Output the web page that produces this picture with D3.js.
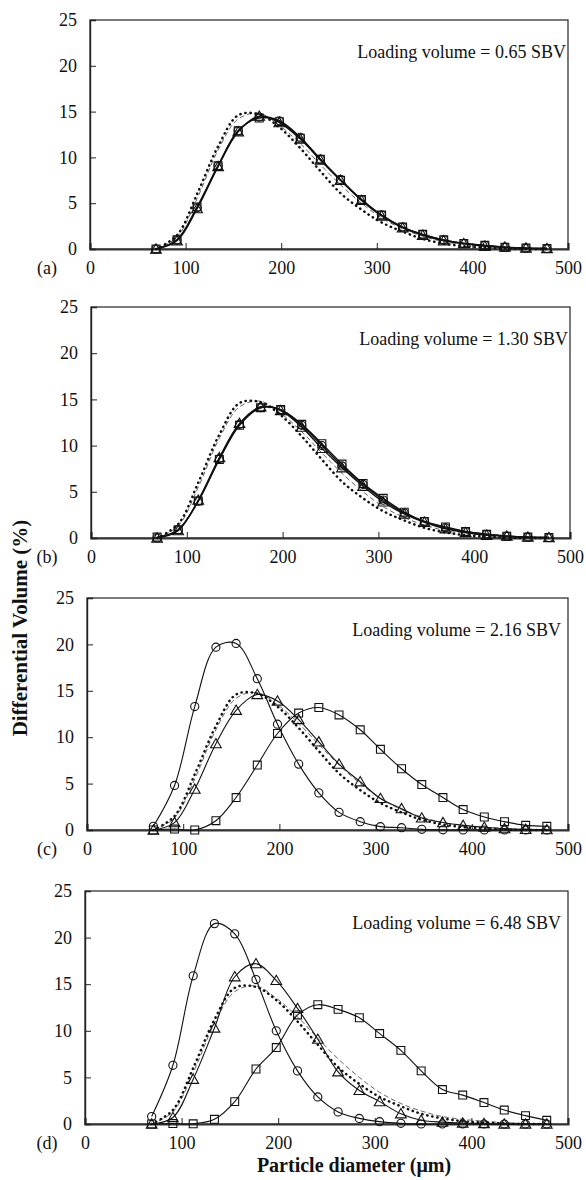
<!DOCTYPE html>
<html>
<head>
<meta charset="utf-8">
<script src="https://cdn.jsdelivr.net/npm/d3@7"></script>
<style>
  body { margin: 0; background: #fff; }
  svg { display: block; }
  text { font-family: "Liberation Serif", "Times New Roman", "DejaVu Serif", serif; fill: #111; }
</style>
</head>
<body>
<div id="chart"></div>
<script>
// particle size classes (um), shared by every panel
const diameters = [69, 91, 112, 134, 155, 177, 198, 220, 241, 262, 284, 305, 327, 348, 370, 391, 413, 434, 456, 478]

// reference curves drawn in every panel
const dottedRef = [0, 1.5, 6.0, 11.2, 14.6, 14.7, 13.3, 11.0, 8.5, 6.1, 4.3, 2.9, 1.9, 1.1, 0.6, 0.3, 0.15, 0.05, 0, 0]
const dashedRef = [0, 1.3, 5.5, 10.8, 14.2, 14.8, 13.5, 11.5, 9.2, 7.0, 5.0, 3.4, 2.2, 1.4, 0.8, 0.5, 0.3, 0.15, 0.05, 0]

const panelLabels = ['(a)', '(b)', '(c)', '(d)']
const loadingVolumes = ['0.65', '1.30', '2.16', '6.48']

const circleValues = [
  [0, 1.0, 4.5, 9.1, 12.9, 14.4, 14.0, 12.2, 9.8, 7.6, 5.4, 3.7, 2.4, 1.6, 1.0, 0.6, 0.4, 0.2, 0.1, 0.05],
  [0, 0.9, 4.0, 8.6, 12.3, 14.1, 13.9, 12.2, 10.0, 7.8, 5.8, 4.1, 2.7, 1.8, 1.1, 0.7, 0.4, 0.2, 0.1, 0.05],
  [0.4, 4.8, 13.3, 19.7, 20.1, 16.3, 11.4, 7.1, 4.0, 1.9, 0.9, 0.36, 0.25, 0.07, 0.02, 0, 0, 0, 0, 0],
  [0.8, 6.3, 15.9, 21.5, 20.4, 15.5, 10.0, 5.7, 2.9, 1.3, 0.6, 0.25, 0.07, 0, 0, 0, 0, 0, 0, 0]
]
const triangleValues = [
  [0, 0.9, 4.4, 9.0, 12.8, 14.5, 13.8, 12.0, 9.7, 7.5, 5.3, 3.6, 2.3, 1.5, 0.9, 0.6, 0.3, 0.2, 0.1, 0.05],
  [0, 0.8, 4.1, 8.7, 12.4, 14.2, 13.8, 12.0, 9.7, 7.6, 5.6, 3.9, 2.6, 1.7, 1.0, 0.6, 0.3, 0.2, 0.1, 0.05],
  [0, 0.8, 4.4, 9.3, 12.9, 14.6, 13.9, 11.9, 9.5, 7.1, 5.2, 3.4, 2.3, 1.3, 0.8, 0.5, 0.3, 0.15, 0.07, 0.03],
  [0, 0.7, 4.8, 10.3, 15.8, 17.2, 15.4, 12.4, 9.1, 5.6, 3.6, 2.4, 1.1, 0.4, 0.2, 0.1, 0.05, 0, 0, 0]
]
const squareValues = [
  [0, 1.0, 4.6, 9.1, 12.9, 14.3, 13.9, 12.1, 9.8, 7.5, 5.4, 3.7, 2.4, 1.6, 1.0, 0.6, 0.4, 0.2, 0.1, 0.05],
  [0.1, 0.9, 4.0, 8.5, 12.2, 14.1, 13.9, 12.3, 10.2, 8.0, 5.9, 4.3, 2.8, 1.8, 1.2, 0.7, 0.4, 0.2, 0.1, 0.05],
  [0, 0.1, 0, 1.0, 3.5, 7.0, 10.4, 12.6, 13.2, 12.4, 10.8, 8.7, 6.6, 4.9, 3.5, 2.2, 1.4, 0.9, 0.5, 0.4],
  [0, 0.05, 0.02, 0.5, 2.4, 5.9, 8.2, 11.7, 12.8, 12.3, 11.4, 9.7, 7.9, 5.7, 3.7, 3.1, 2.3, 1.5, 0.9, 0.4]
]

const xTicks = [0, 100, 200, 300, 400, 500]
const yTicks = [0, 5, 10, 15, 20, 25]

const width = 586
const height = 1180

// plot boxes
const boxes = [
  {left: 90, right: 568, top: 20, bottom: 249},
  {left: 91, right: 570, top: 307, bottom: 538},
  {left: 87, right: 568, top: 598, bottom: 830},
  {left: 85, right: 568, top: 891, bottom: 1124}
]

const svg = d3.select('#chart').append('svg')
  .attr('width', width)
  .attr('height', height)

const symbolFor = {
  circle: d3.symbol().type(d3.symbolCircle).size(52),
  triangle: d3.symbol().type(d3.symbolTriangle).size(50),
  square: d3.symbol().type(d3.symbolSquare).size(62)
}

boxes.forEach((b, i) => {
  const x = d3.scaleLinear().domain([0, 500]).range([b.left, b.right])
  const y = d3.scaleLinear().domain([0, 25]).range([b.bottom, b.top])
  const g = svg.append('g').attr('class', 'panel')

  const line = d3.line()
    .x((d, j) => x(diameters[j]))
    .y(d => y(d))
    .curve(d3.curveCatmullRom.alpha(0.5))

  // frame
  g.append('rect')
    .attr('x', b.left).attr('y', b.top)
    .attr('width', b.right - b.left).attr('height', b.bottom - b.top)
    .attr('fill', 'none').attr('stroke', '#222').attr('stroke-width', 1.2)

  // axes with inward ticks
  const xAxis = d3.axisBottom(x).tickValues(xTicks).tickSize(-6).tickPadding(12)
  const gx = g.append('g').attr('transform', `translate(0,${b.bottom})`).call(xAxis)
  gx.select('.domain').attr('stroke', '#333').attr('stroke-width', 2.2)
  gx.selectAll('.tick line').attr('stroke', '#222')
  gx.selectAll('.tick text')
    .style('font-family', '"Liberation Serif", serif')
    .style('font-size', '18px').attr('fill', '#111')

  const yAxis = d3.axisLeft(y).tickValues(yTicks).tickSize(-6).tickPadding(13)
  const gy = g.append('g').attr('transform', `translate(${b.left},0)`).call(yAxis)
  gy.select('.domain').attr('stroke', '#222').attr('stroke-width', 1.4)
  gy.selectAll('.tick line').attr('stroke', '#222')
  gy.selectAll('.tick text')
    .style('font-family', '"Liberation Serif", serif')
    .style('font-size', '18px').attr('fill', '#111')

  g.append('text')
    .attr('x', 47).attr('y', b.bottom + 25)
    .attr('text-anchor', 'middle')
    .style('font-size', '18px')
    .text(panelLabels[i])

  g.append('text')
    .attr('x', i < 2 ? b.right - 2 : b.right - 7)
    .attr('y', b.top + 38)
    .attr('text-anchor', 'end')
    .style('font-size', '18px')
    .text(`Loading volume = ${loadingVolumes[i]} SBV`)

  // reference curves
  g.append('path').datum(dashedRef)
    .attr('d', line)
    .attr('fill', 'none').attr('stroke', '#555')
    .attr('stroke-width', 0.9).attr('stroke-dasharray', '5,3')

  g.append('path').datum(dottedRef)
    .attr('d', line)
    .attr('fill', 'none').attr('stroke', '#111')
    .attr('stroke-width', 2.5).attr('stroke-linecap', 'round')
    .attr('stroke-dasharray', '0.3,4.8')

  const series = [
    {values: squareValues[i], shape: 'square'},
    {values: triangleValues[i], shape: 'triangle'},
    {values: circleValues[i], shape: 'circle'}
  ]
  const lw = i < 2 ? 1.4 : 1.1

  series.forEach(s => {
    g.append('path').datum(s.values)
      .attr('d', line)
      .attr('fill', 'none').attr('stroke', '#111').attr('stroke-width', lw)

    g.selectAll(null)
      .data(s.values)
      .enter()
      .append('path')
      .attr('transform', (d, j) => `translate(${x(diameters[j])},${y(d) + (s.shape === 'triangle' ? 1 : 0)})`)
      .attr('d', symbolFor[s.shape])
      .attr('fill', 'none').attr('stroke', '#111').attr('stroke-width', 1.1)
  })
})

svg.append('text')
  .attr('transform', 'translate(27,628) rotate(-90)')
  .attr('text-anchor', 'middle')
  .style('font-size', '21px').style('font-weight', 'bold')
  .text('Differential Volume (%)')

svg.append('text')
  .attr('x', 354).attr('y', 1172)
  .attr('text-anchor', 'middle')
  .style('font-size', '20px').style('font-weight', 'bold')
  .text('Particle diameter (μm)')
</script>
</body>
</html>
